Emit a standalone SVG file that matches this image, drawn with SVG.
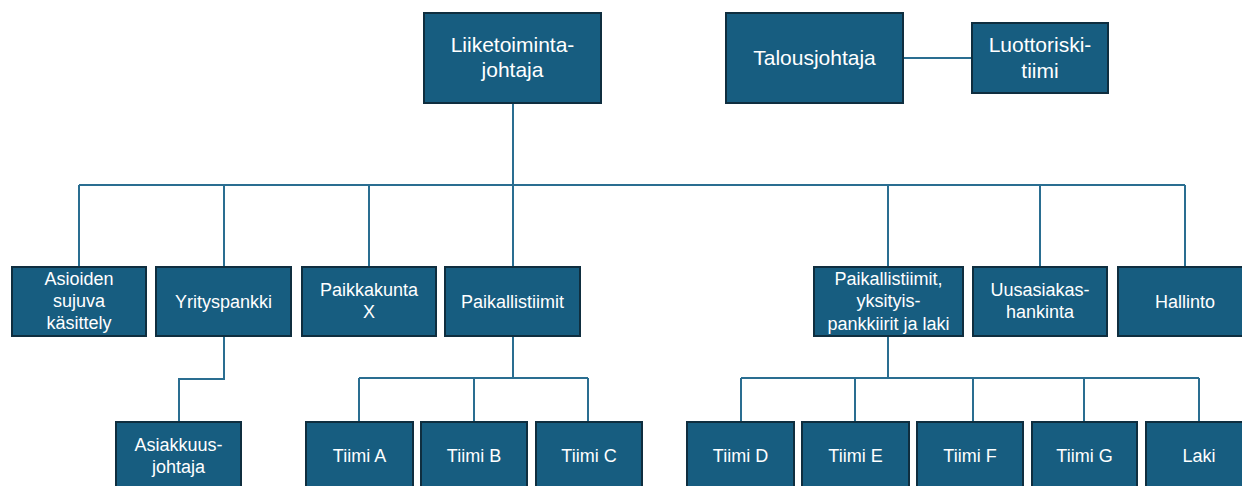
<svg xmlns="http://www.w3.org/2000/svg" width="1242" height="486" viewBox="0 0 1242 486">
<style>
.box{fill:#175d80;stroke:#0f2e3f;stroke-width:2}
.t{font-family:"Liberation Sans",Arial,sans-serif;fill:#ffffff;text-anchor:middle;font-size:18px}
.tl{font-size:21px}
.c{fill:none;stroke:#2a6e91;stroke-width:2}
</style>
<rect width="1242" height="486" fill="#ffffff"/>
<g id="connectors">
<path class="c" d="M513 103V185M79 185H1185M79 185V267M224 185V267M369 185V267M513 185V267M888 185V267M1040 185V267M1185 185V267"/>
<path class="c" d="M903 58H972"/>
<path class="c" d="M224 336V379H179V422"/>
<path class="c" d="M513 336V378M359 378H588M359 378V422M474 378V422M588 378V422"/>
<path class="c" d="M888 336V378M741 378H1199M741 378V422M855 378V422M973 378V422M1084 378V422M1199 378V422"/>
</g>
<g id="n-liiketoiminta"><rect class="box" x="424" y="13" width="177" height="90"/><text class="t tl" x="512.5" y="52">Liiketoiminta-</text><text class="t tl" x="512.5" y="77">johtaja</text></g>
<g id="n-talous"><rect class="box" x="726" y="13" width="177" height="90"/><text class="t tl" x="814.5" y="65">Talousjohtaja</text></g>
<g id="n-luottoriski"><rect class="box" x="972" y="23" width="136" height="70"/><text class="t tl" x="1040" y="52">Luottoriski-</text><text class="t tl" x="1040" y="78">tiimi</text></g>
<g id="n-asioiden"><rect class="box" x="12" y="267" width="134" height="69"/><text class="t" x="79" y="285">Asioiden</text><text class="t" x="79" y="307">sujuva</text><text class="t" x="79" y="329">käsittely</text></g>
<g id="n-yrityspankki"><rect class="box" x="156" y="267" width="135" height="69"/><text class="t" x="223.5" y="307.5">Yrityspankki</text></g>
<g id="n-paikkakunta"><rect class="box" x="302" y="267" width="134" height="69"/><text class="t" x="369" y="296">Paikkakunta</text><text class="t" x="369" y="318">X</text></g>
<g id="n-paikallistiimit"><rect class="box" x="445" y="267" width="135" height="69"/><text class="t" x="512.5" y="307.5">Paikallistiimit</text></g>
<g id="n-paikallistiimit2"><rect class="box" x="814" y="267" width="149" height="69"/><text class="t" x="888.5" y="285">Paikallistiimit,</text><text class="t" x="888.5" y="307">yksityis-</text><text class="t" x="888.5" y="330">pankkiirit ja laki</text></g>
<g id="n-uusasiakas"><rect class="box" x="973" y="267" width="134" height="69"/><text class="t" x="1040" y="296">Uusasiakas-</text><text class="t" x="1040" y="318">hankinta</text></g>
<g id="n-hallinto"><rect class="box" x="1118" y="267" width="134" height="69"/><text class="t" x="1185" y="307.5">Hallinto</text></g>
<g id="n-asiakkuus"><rect class="box" x="116" y="422" width="125" height="70"/><text class="t" x="178.5" y="451">Asiakkuus-</text><text class="t" x="178.5" y="473">johtaja</text></g>
<g id="n-tiimiA"><rect class="box" x="306" y="422" width="107" height="70"/><text class="t" x="359.5" y="462">Tiimi A</text></g>
<g id="n-tiimiB"><rect class="box" x="421" y="422" width="106" height="70"/><text class="t" x="474" y="462">Tiimi B</text></g>
<g id="n-tiimiC"><rect class="box" x="536" y="422" width="106" height="70"/><text class="t" x="589" y="462">Tiimi C</text></g>
<g id="n-tiimiD"><rect class="box" x="687" y="422" width="107" height="70"/><text class="t" x="740.5" y="462">Tiimi D</text></g>
<g id="n-tiimiE"><rect class="box" x="802" y="422" width="107" height="70"/><text class="t" x="855.5" y="462">Tiimi E</text></g>
<g id="n-tiimiF"><rect class="box" x="917" y="422" width="106" height="70"/><text class="t" x="970" y="462">Tiimi F</text></g>
<g id="n-tiimiG"><rect class="box" x="1032" y="422" width="105" height="70"/><text class="t" x="1084.5" y="462">Tiimi G</text></g>
<g id="n-laki"><rect class="box" x="1146" y="422" width="107" height="70"/><text class="t" x="1199" y="462">Laki</text></g>
</svg>
